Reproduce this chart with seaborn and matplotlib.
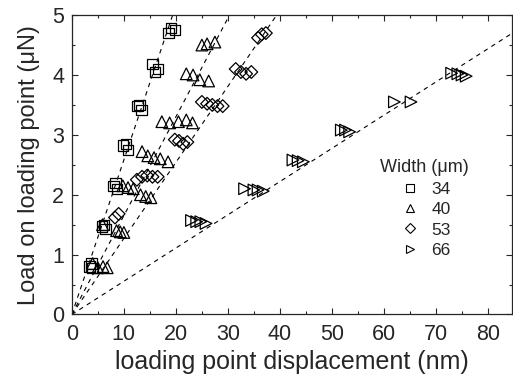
import numpy as np
import pandas as pd
import matplotlib
matplotlib.use("Agg")
import matplotlib.pyplot as plt
import seaborn as sns
from matplotlib.ticker import MultipleLocator

# ---- data ----
widths = ["34", "40", "53", "66"]
marker_for = {"34": "s", "40": "^", "53": "D", "66": ">"}
size_for = {"34": 55, "40": 70, "53": 42, "66": 70}

# width 34 um
x_34 = [3.4, 3.8, 4.0, 5.8, 6.2, 6.5, 8.0, 8.4, 8.7, 9.9, 10.4, 10.8,
        12.6, 13.0, 13.4, 15.5, 16.0, 16.6, 18.6, 19.1, 19.8]
y_34 = [0.80, 0.85, 0.78, 1.47, 1.50, 1.43, 2.15, 2.20, 2.10, 2.82, 2.85, 2.75,
        3.48, 3.50, 3.42, 4.18, 4.05, 4.10, 4.70, 4.78, 4.75]

# width 40 um
x_40 = [4.0, 5.0, 6.0, 6.8, 5.9, 8.6, 9.3, 10.0, 9.8, 10.8, 11.8, 13.2, 14.2, 15.2,
        13.5, 14.6, 15.8, 17.0, 18.5, 17.3, 18.8, 20.5, 22.0, 23.2,
        22.0, 23.3, 24.6, 26.3, 25.0, 26.0, 27.5]
y_40 = [0.85, 0.78, 0.80, 0.78, 1.50, 1.40, 1.38, 1.37, 2.15, 2.12, 2.10, 2.00, 1.97, 1.95,
        2.72, 2.65, 2.62, 2.60, 2.55, 3.22, 3.20, 3.22, 3.25, 3.20,
        4.02, 4.00, 3.92, 3.90, 4.50, 4.52, 4.55]

# width 53 um
x_53 = [8.3, 9.0, 12.5, 13.5, 14.5, 15.5, 16.5, 19.8, 20.6, 21.4, 22.2,
        25.0, 26.0, 27.0, 28.0, 29.0, 31.5, 32.5, 33.5, 34.5, 35.8, 36.5, 37.3]
y_53 = [1.62, 1.68, 2.25, 2.30, 2.32, 2.30, 2.30, 2.92, 2.90, 2.85, 2.88,
        3.55, 3.52, 3.50, 3.48, 3.48, 4.10, 4.05, 4.02, 4.05, 4.62, 4.68, 4.70]

# width 66 um
x_66 = [23.0, 24.0, 24.8, 25.8, 33.2, 35.0, 35.8, 36.8, 42.5, 43.5, 44.5,
        51.8, 52.6, 53.4, 62.0, 65.2, 73.0, 74.2, 75.0, 75.8]
y_66 = [1.57, 1.55, 1.55, 1.52, 2.10, 2.08, 2.08, 2.06, 2.58, 2.57, 2.55,
        3.08, 3.08, 3.05, 3.55, 3.55, 4.03, 4.02, 4.00, 3.98]

# fitted slopes (uN / nm) of the dashed lines through the origin
slopes = {"34": 0.258, "40": 0.165, "53": 0.127, "66": 0.0555}

frames = []
for w, xs, ys in zip(widths, [x_34, x_40, x_53, x_66], [y_34, y_40, y_53, y_66]):
    frames.append(pd.DataFrame({"disp": xs, "load": ys, "Width": w}))
df = pd.concat(frames, ignore_index=True)

# ---- figure ----
sns.set_style("ticks")
plt.rcParams["font.family"] = ["Liberation Sans", "DejaVu Sans"]

fig = plt.figure(figsize=(5.13, 3.78), dpi=100)
ax = fig.add_axes([0.140, 0.168, 0.858, 0.792])

xmax, ymax = 84.6, 5.0
for w in widths:
    xs = np.array([0.0, min(xmax, ymax / slopes[w])])
    sns.lineplot(x=xs, y=slopes[w] * xs, ax=ax, color="black", lw=0.8,
                 dashes=False, linestyle=(0, (4, 4)), legend=False)

handles = []
for w in widths:
    sub = df[df["Width"] == w]
    sns.scatterplot(data=sub, x="disp", y="load", ax=ax, marker=marker_for[w],
                    s=size_for[w], facecolor="none", edgecolor="black",
                    linewidth=0.9, legend=False)
    handles.append(plt.Line2D([], [], ls="none", marker=marker_for[w],
                              mfc="none", mec="black", mew=0.8,
                              ms=6 if w != "53" else 5))

ax.set_xlim(0, xmax)
ax.set_ylim(0, ymax)
ax.xaxis.set_major_locator(MultipleLocator(10))
ax.xaxis.set_minor_locator(MultipleLocator(5))
ax.yaxis.set_major_locator(MultipleLocator(1))
ax.yaxis.set_minor_locator(MultipleLocator(0.5))
ax.tick_params(which="both", direction="in", top=True, right=True, labelsize=15.5)
ax.tick_params(which="major", length=4, width=0.8)
ax.tick_params(which="minor", length=2.5, width=0.8)
ax.tick_params(axis="x", which="major", pad=6.5)
ax.tick_params(axis="y", which="major", pad=5.5)
for sp in ax.spines.values():
    sp.set_linewidth(0.9)

ax.set_xlabel("loading point displacement (nm)", fontsize=18, labelpad=4)
ax.set_ylabel("Load on loading point (\u03bcN)", fontsize=17, labelpad=9)

leg = ax.legend(handles, widths, title="Width (\u03bcm)", loc="upper left",
                bbox_to_anchor=(0.665, 0.57), frameon=False, fontsize=12.5,
                title_fontsize=13, handletextpad=0.5, labelspacing=0.3,
                handlelength=1.4)

fig.savefig("out.png", dpi=100)
